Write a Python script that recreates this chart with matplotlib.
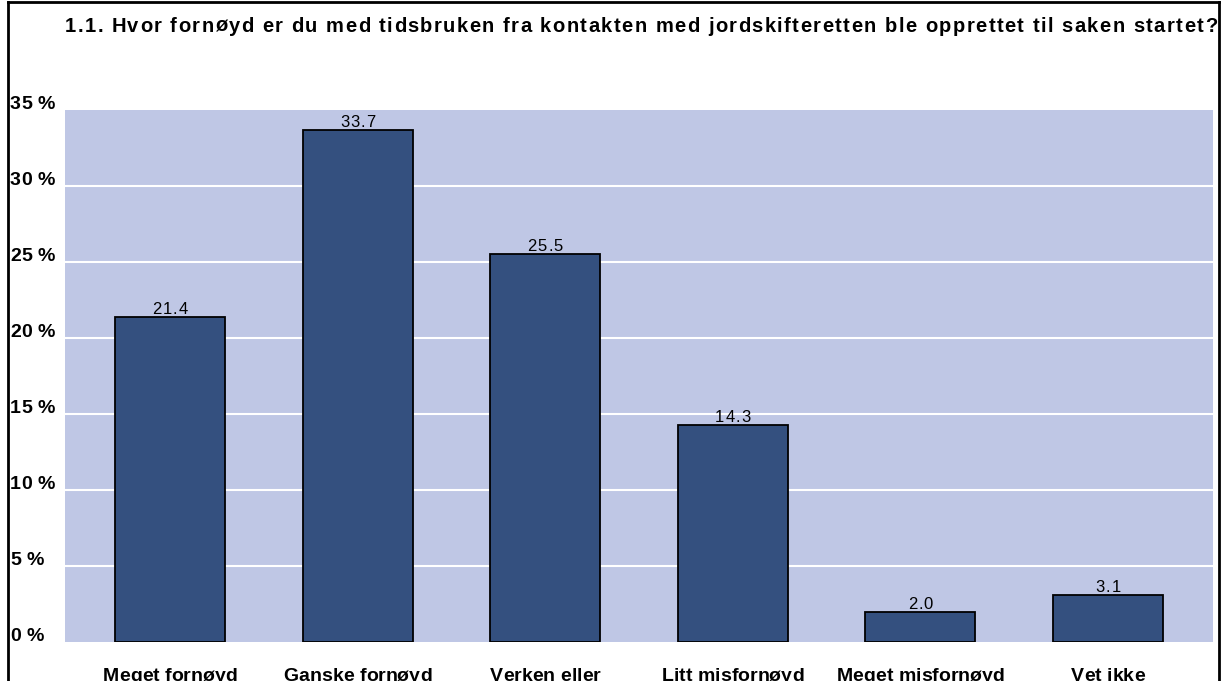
import matplotlib
matplotlib.use("Agg")
import matplotlib.pyplot as plt
from matplotlib.lines import Line2D
from matplotlib.font_manager import FontProperties, findfont, get_font

plt.rcParams['font.family'] = ['Liberation Sans', 'DejaVu Sans']

title = "1.1. Hvor fornøyd er du med tidsbruken fra kontakten med jordskifteretten ble opprettet til saken startet?"
categories = ["Meget fornøyd", "Ganske fornøyd", "Verken eller", "Litt misfornøyd", "Meget misfornøyd", "Vet ikke"]
values = [21.4, 33.7, 25.5, 14.3, 2.0, 3.1]
yticks = [0, 5, 10, 15, 20, 25, 30, 35]
ytick_labels = ["0 %", "5 %", "10 %", "15 %", "20 %", "25 %", "30 %", "35 %"]

W, H = 1225, 681
DPI = 100
fig = plt.figure(figsize=(W / DPI, H / DPI), dpi=DPI)
ax = fig.add_axes([65 / W, 1 - 642 / H, (1213 - 65) / W, (642 - 110) / H])
ax.set_facecolor('#BFC7E5')

x = list(range(len(categories)))
ax.bar(x, values, width=0.587, color='#34507F', edgecolor='black', linewidth=1.3, zorder=3)
ax.set_xlim(-0.56, 5.56)
ax.set_ylim(0, 35)
for y in yticks[1:-1]:
    ax.axhline(y, color='white', linewidth=1.5, zorder=1)
ax.set_xticks([])
ax.set_yticks([])
for s in ax.spines.values():
    s.set_visible(False)


def char_widths(s, size, weight):
    prop = FontProperties(family='Liberation Sans', size=size, weight=weight)
    font = get_font(findfont(prop))
    font.set_size(size, DPI)
    return [font.load_char(ord(c)).linearHoriAdvance / 65536 for c in s]


def spaced_text(xp, yp, s, size, weight='normal', sp=1.0, ha='center', target=None):
    """Draw text with extra letter spacing; xp, yp in display pixels (baseline)."""
    widths = char_widths(s, size, weight)
    if target is not None:
        sp = (target - sum(widths)) / (len(s) - 1)
    total = sum(widths) + sp * (len(s) - 1)
    x0 = xp - total / 2 if ha == 'center' else xp
    for c, w in zip(s, widths):
        fig.text(x0 / W, yp / H, c, ha='left', va='baseline', fontsize=size,
                 fontweight=weight, family='Liberation Sans')
        x0 += w + sp


# value labels
for xi, v in zip(x, values):
    px, py = ax.transData.transform((xi, v))
    spaced_text(px, py + 3, f"{v:.1f}", 12, 'normal', sp=1.0)

# y tick labels
for yv, lab in zip(yticks, ytick_labels):
    _, py = ax.transData.transform((0, yv))
    spaced_text(10, py + 1, lab, 14, 'bold', sp=0.2, ha='left')

# category labels
for xi, lab in zip(x, categories):
    px, _ = ax.transData.transform((xi, 0))
    spaced_text(px, H - 681, lab, 14, 'bold', sp=0.0)

# title
spaced_text(65, H - 32, title, 14.5, 'bold', ha='left', target=1152)

# border
lw = 2
fig.add_artist(Line2D([8 / W, 8 / W], [0, 1 - 2 / H], transform=fig.transFigure, color='black', lw=lw))
fig.add_artist(Line2D([1219 / W, 1219 / W], [0, 1 - 2 / H], transform=fig.transFigure, color='black', lw=lw))
fig.add_artist(Line2D([8 / W, 1219 / W], [1 - 2 / H, 1 - 2 / H], transform=fig.transFigure, color='black', lw=lw))

fig.savefig('out.png', dpi=DPI, facecolor='white')
